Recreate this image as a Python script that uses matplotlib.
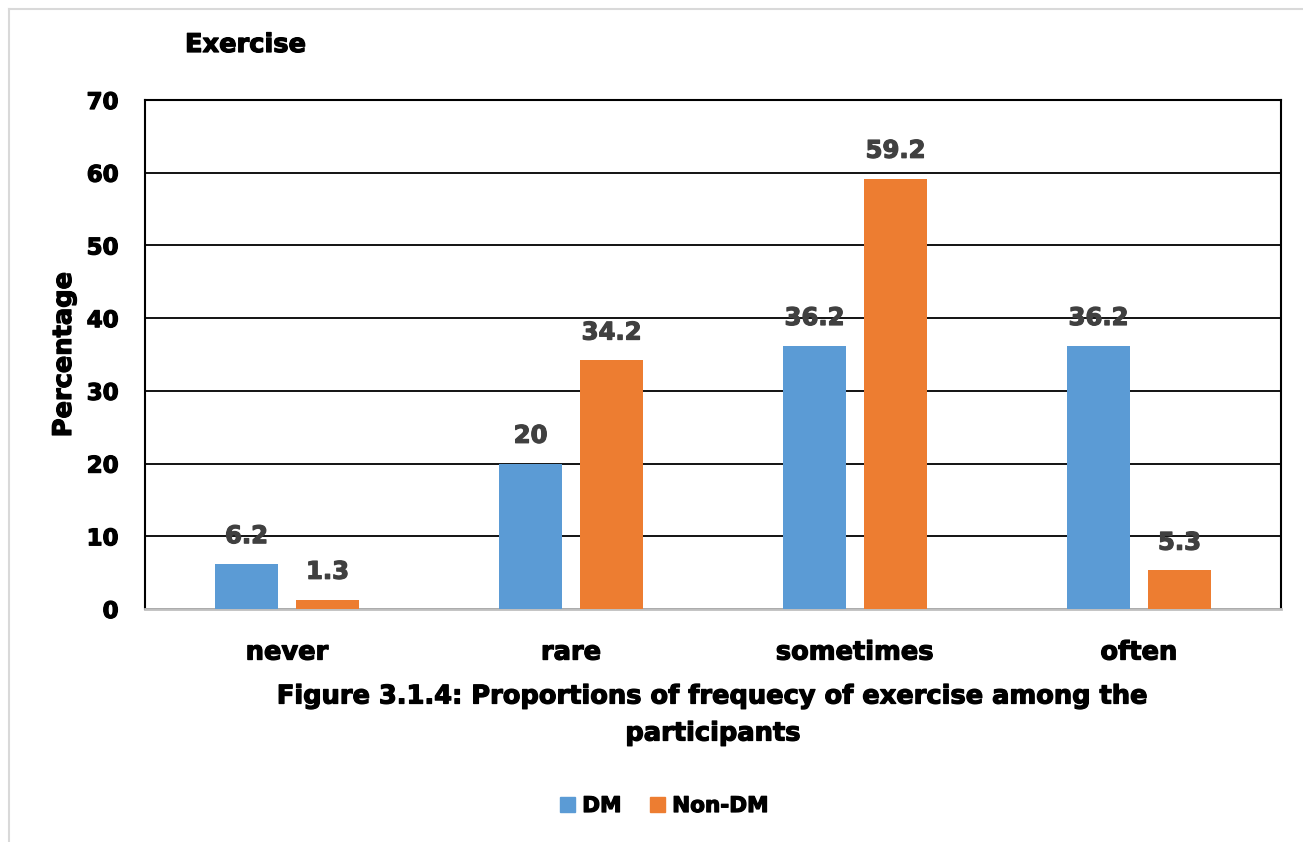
import numpy as np
import matplotlib.pyplot as plt
import matplotlib.patheffects as pe
from matplotlib.lines import Line2D
from matplotlib.patches import Patch

# Dati: percentuale di partecipanti per frequenza di esercizio
categories = ["never", "rare", "sometimes", "often"]
dm_values = [6.2, 20, 36.2, 36.2]
non_dm_values = [1.3, 34.2, 59.2, 5.3]
series_names = ["DM", "Non-DM"]

blue = "#5B9BD5"
orange = "#ED7D31"
label_color = "#404040"

plt.rcParams["font.family"] = ["DejaVu Sans"]
plt.rcParams["font.weight"] = "bold"


def heavy(color="black"):
    # contorno sottile per rendere il testo piu' marcato
    return [pe.withStroke(linewidth=0.9, foreground=color)]


fig = plt.figure(figsize=(13.03, 8.42), dpi=100)
ax = fig.add_axes([145 / 1303, 1 - 609 / 842, 1136 / 1303, 509 / 842])

x = np.arange(len(categories))
width = 0.222
offset = 0.1426

bars_dm = ax.bar(x - offset, dm_values, width, color=blue, zorder=3)
bars_non = ax.bar(x + offset, non_dm_values, width, color=orange, zorder=3)

for bars, vals in [(bars_dm, dm_values), (bars_non, non_dm_values)]:
    for b, v in zip(bars, vals):
        ax.annotate(f"{v:g}", (b.get_x() + b.get_width() / 2, v),
                    xytext=(0, 20), textcoords="offset points",
                    ha="center", va="center", fontsize=17.5,
                    fontweight="bold", color=label_color, zorder=4,
                    path_effects=heavy(label_color))

ax.set_xlim(-0.5, len(categories) - 0.5)
ax.set_ylim(0, 70)
ax.set_yticks(range(0, 71, 10))
ax.yaxis.grid(True, color="black", linewidth=1.3, zorder=0)
ax.set_axisbelow(True)

ax.set_xticks(x)
ax.set_xticklabels(categories, fontsize=18.5, fontweight="bold")
ax.tick_params(axis="x", length=0, pad=22)
ax.tick_params(axis="y", length=0, pad=19, labelsize=16.5)
for lbl in ax.get_yticklabels() + ax.get_xticklabels():
    lbl.set_fontweight("bold")
    lbl.set_path_effects(heavy())

for side in ["left", "top", "right"]:
    ax.spines[side].set_color("black")
    ax.spines[side].set_linewidth(1.5)
ax.spines["bottom"].set_color("#BFBFBF")
ax.spines["bottom"].set_linewidth(2)

ylab = ax.set_ylabel("Percentage", fontsize=18.5, fontweight="bold")
ylab.set_path_effects(heavy())
ax.yaxis.set_label_coords(-68 / 1136, 0.5)

fig.text(185 / 1303, 1 - 45 / 842, "Exercise", fontsize=18.5,
         fontweight="bold", ha="left", va="center", path_effects=heavy())

fig.text(713 / 1303, 1 - 715 / 842,
         "Figure 3.1.4: Proportions of frequecy of exercise among the\nparticipants",
         fontsize=18.5, fontweight="bold", ha="center", va="center",
         linespacing=1.55, path_effects=heavy())

handles = [Patch(color=blue), Patch(color=orange)]
leg = fig.legend(handles, series_names, loc="center",
                 bbox_to_anchor=(664 / 1303, 1 - 806 / 842),
                 ncol=2, frameon=False, fontsize=15.5, handlelength=0.7,
                 handleheight=0.7, handletextpad=0.35, columnspacing=1.3)
for t in leg.get_texts():
    t.set_path_effects(heavy())

# cornice grigia del riquadro
fig.add_artist(Line2D([9 / 1303, 9 / 1303], [0, 1 - 9 / 842], color="#D9D9D9",
                      linewidth=1.5, transform=fig.transFigure))
fig.add_artist(Line2D([9 / 1303, 1], [1 - 9 / 842, 1 - 9 / 842], color="#D9D9D9",
                      linewidth=1.5, transform=fig.transFigure))

fig.savefig("out.png", dpi=100)
